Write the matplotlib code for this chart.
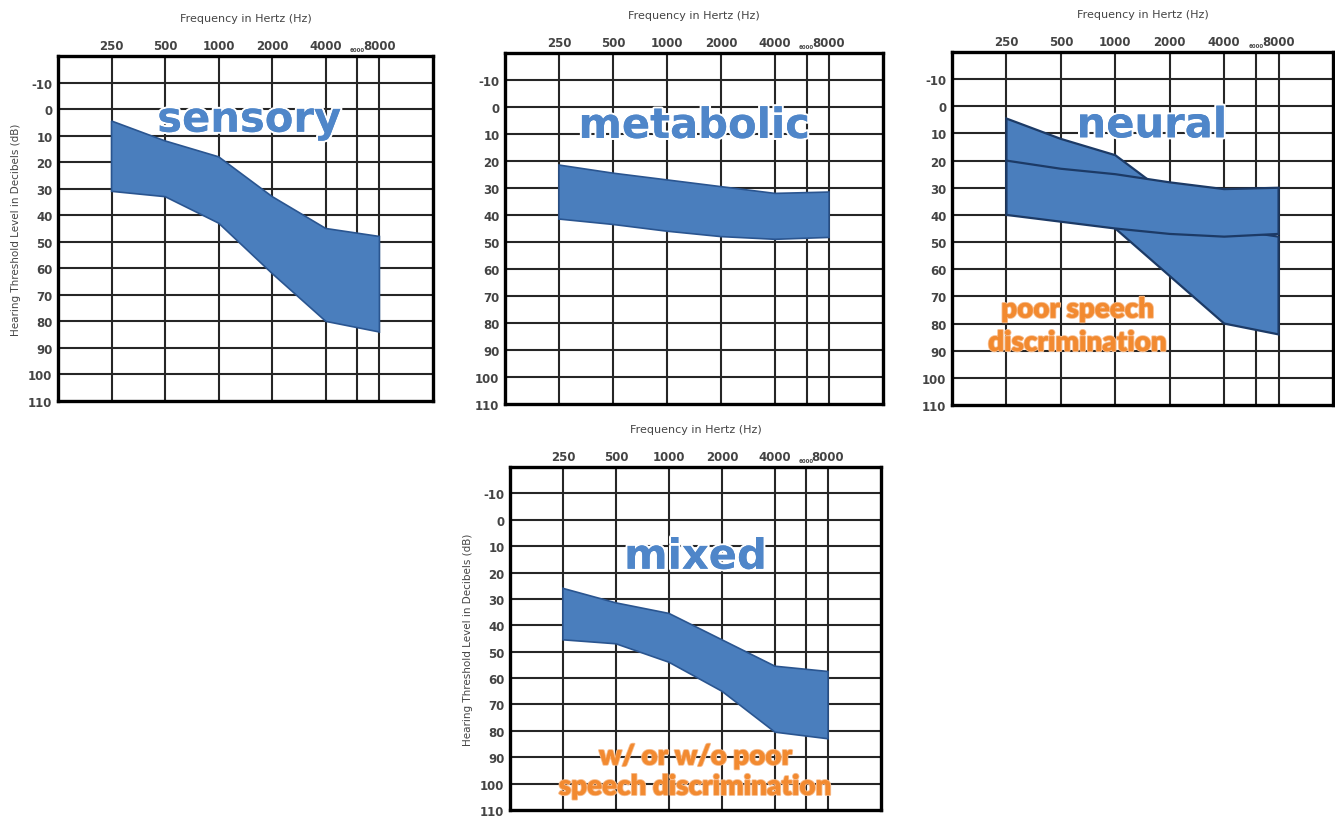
import numpy as np
import matplotlib.pyplot as plt
import matplotlib.patheffects as pe

# audiogram frequencies (Hz) and band edges (dB HL)
freqs = [250, 500, 1000, 2000, 4000, 8000]
grid_freqs = [250, 500, 1000, 2000, 4000, 6000, 8000]
freq_labels = ['250', '500', '1000', '2000', '4000', '6000', '8000']
db_ticks = [-10, 0, 10, 20, 30, 40, 50, 60, 70, 80, 90, 100, 110]

sensory_top = [4.5, 12, 18, 33, 45, 48]
sensory_bot = [31, 33, 43, 62, 80, 84]

metabolic_top = [21.5, 24.5, 27, 29.5, 32, 31.5]
metabolic_bot = [41.5, 43.5, 46, 48, 49, 48.3]

neural_a_top = [4.5, 12, 18, 33, 45, 48]
neural_a_bot = [31, 33, 45, 62.5, 80, 84]
neural_b_top = [20, 23, 25, 28, 30.5, 30]
neural_b_bot = [40, 42.5, 45, 47, 48, 47]

mixed_top = [26, 31.5, 35.5, 45.5, 55.5, 57.5]
mixed_bot = [45.5, 47, 54, 65, 80.5, 83]

FILL = '#4a7ebd'
EDGE = '#2a5590'
ORANGE = '#f28a30'

W, H = 1335, 820
fig = plt.figure(figsize=(W / 100, H / 100), dpi=100)


def make_audiogram(box, ylabel=True):
    x0, y0, x1, y1 = box  # pixel box (left, top, right, bottom)
    ax = fig.add_axes([x0 / W, 1 - y1 / H, (x1 - x0) / W, (y1 - y0) / H])
    ax.set_xscale('log', base=2)
    ax.set_xlim(125, 16000)
    ax.set_ylim(110, -20)
    for f in grid_freqs:
        ax.axvline(f, color='#262626', lw=1.5, zorder=1)
    for d in db_ticks[:-1]:
        ax.axhline(d, color='#262626', lw=1.5, zorder=1)
    ax.xaxis.tick_top()
    ax.set_xticks(grid_freqs)
    ax.set_xticklabels(freq_labels)
    ax.xaxis.set_minor_locator(plt.NullLocator())
    for lab in ax.get_xticklabels():
        lab.set_fontsize(8.5 if lab.get_text() != '6000' else 4)
        lab.set_fontweight('bold')
        lab.set_color('#444444')
    ax.set_yticks(db_ticks)
    ax.set_yticklabels([str(d) for d in db_ticks], fontsize=8.5,
                       fontweight='bold', color='#444444')
    ax.tick_params(axis='y', length=0, pad=4)
    ax.tick_params(axis='x', length=0, pad=3)
    for s in ax.spines.values():
        s.set_linewidth(2.4)
        s.set_color('black')
    ax.set_title('Frequency in Hertz (Hz)', fontsize=8, color='#444444', pad=25)
    if ylabel:
        ax.set_ylabel('Hearing Threshold Level in Decibels (dB)', fontsize=7.5,
                      color='#444444', labelpad=5)
    return ax


def band(ax, top, bot, lw=1.2, ec=EDGE):
    xs = freqs + freqs[::-1]
    ys = top + bot[::-1]
    ax.fill(xs, ys, facecolor=FILL, edgecolor=ec, lw=lw, zorder=3)


big_fx = [pe.SimpleLineShadow(offset=(2, -2), alpha=0.35),
          pe.withStroke(linewidth=3, foreground='white'), pe.Normal()]
or_fx = [pe.SimpleLineShadow(offset=(1.5, -1.5), alpha=0.25),
         pe.withStroke(linewidth=1.5, foreground='#f7b885'), pe.Normal()]


def big_label(ax, x, y, txt):
    ax.text(x, y, txt, fontsize=30, fontweight='bold', color='#4f86c9',
            ha='center', va='center', zorder=5, path_effects=big_fx,
            family='DejaVu Sans')


def orange_label(ax, x, y, txt, spacing):
    ax.text(x, y, txt, fontsize=20, fontweight='heavy', family='Lato',
            color=ORANGE, ha='center', va='center', linespacing=spacing,
            zorder=5, path_effects=or_fx)


ax1 = make_audiogram((58, 57, 433, 402))
band(ax1, sensory_top, sensory_bot)
big_label(ax1, 1480, 4, 'sensory')

ax2 = make_audiogram((505, 54, 883, 405), ylabel=False)
band(ax2, metabolic_top, metabolic_bot)
big_label(ax2, 1414, 7, 'metabolic')

ax3 = make_audiogram((952, 53, 1333, 406), ylabel=False)
band(ax3, neural_a_top, neural_a_bot, lw=1.6, ec='#1c3a66')
band(ax3, neural_b_top, neural_b_bot, lw=1.6, ec='#1c3a66')
big_label(ax3, 1590, 7, 'neural')
orange_label(ax3, 620, 81, 'poor speech\ndiscrimination', 1.35)

ax4 = make_audiogram((510, 468, 881, 811))
band(ax4, mixed_top, mixed_bot)
big_label(ax4, 1414, 14, 'mixed')
orange_label(ax4, 1414, 95.5, 'w/ or w/o poor\nspeech discrimination', 1.2)

fig.savefig('out.png', dpi=100)
